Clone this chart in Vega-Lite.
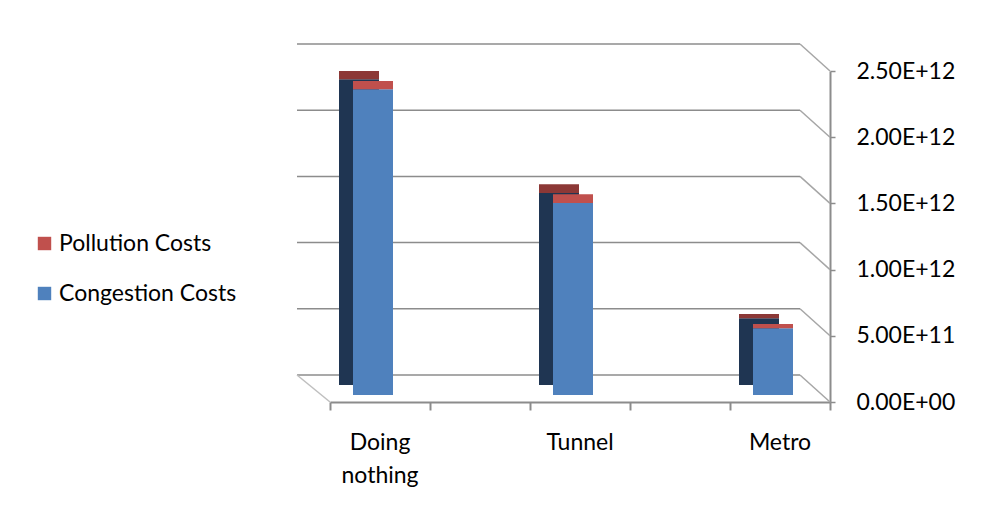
{
  "$schema": "https://vega.github.io/schema/vega-lite/v6.json",
  "autosize": "none",
  "width": 500,
  "height": 331,
  "padding": {"left": 330, "top": 71, "right": 153, "bottom": 118},
  "background": "white",
  "config": {
    "view": {"stroke": null},
    "font": "Lato",
    "axis": {"labelFont": "Lato", "labelColor": "#000000", "labelFontSize": 23, "titleFont": "Lato"},
    "legend": {"labelFont": "Lato", "labelFontSize": 23, "labelColor": "#000000"}
  },
  "datasets": {
    "costs": [
      {"Scenario": "Doing nothing", "Cost": "Congestion Costs", "Value": 2310000000000},
      {"Scenario": "Doing nothing", "Cost": "Pollution Costs", "Value": 62000000000},
      {"Scenario": "Tunnel", "Cost": "Congestion Costs", "Value": 1450000000000},
      {"Scenario": "Tunnel", "Cost": "Pollution Costs", "Value": 66000000000},
      {"Scenario": "Metro", "Cost": "Congestion Costs", "Value": 505000000000},
      {"Scenario": "Metro", "Cost": "Pollution Costs", "Value": 32000000000}
    ],
    "grid": [
      {"v": 0}, {"v": 500000000000}, {"v": 1000000000000},
      {"v": 1500000000000}, {"v": 2000000000000}, {"v": 2500000000000}
    ]
  },
  "layer": [
    {
      "data": {"name": "grid"},
      "mark": {"type": "rule", "color": "#8c8c8c", "strokeWidth": 1.5, "xOffset": -33, "x2Offset": -30, "yOffset": -27, "y2Offset": -27},
      "encoding": {
        "x": {"value": 0},
        "x2": {"value": {"expr": "width"}},
        "y": {"field": "v", "type": "quantitative", "scale": {"domain": [0, 2500000000000], "nice": false},
              "axis": {"orient": "right", "values": [0, 500000000000, 1000000000000, 1500000000000, 2000000000000, 2500000000000],
                       "labelExpr": "datum.value == 0 ? '0.00E+00' : upper(format(datum.value, '.2e'))",
                       "grid": false, "domain": true, "domainColor": "#8c8c8c", "domainWidth": 2,
                       "ticks": true, "tickColor": "#8c8c8c", "tickSize": 5, "tickWidth": 1.5,
                       "labelPadding": 21, "title": null}},
        "y2": {"field": "v"}
      }
    },
    {
      "data": {"name": "grid"},
      "mark": {"type": "rule", "color": "#a6a6a6", "strokeWidth": 1.5, "xOffset": -30, "yOffset": -27},
      "encoding": {
        "x": {"value": {"expr": "width"}},
        "x2": {"value": {"expr": "width"}},
        "y": {"field": "v", "type": "quantitative"},
        "y2": {"field": "v"}
      }
    },
    {
      "data": {"values": [{"v": 0}]},
      "mark": {"type": "rule", "color": "#bfbfbf", "strokeWidth": 1.5, "xOffset": -33, "yOffset": -27},
      "encoding": {
        "x": {"value": 0},
        "x2": {"value": 0},
        "y": {"field": "v", "type": "quantitative"},
        "y2": {"field": "v"}
      }
    },
    {
      "data": {"values": [{"t": 0}]},
      "mark": {"type": "rule", "opacity": 0},
      "encoding": {
        "x": {"datum": 0, "type": "quantitative", "scale": {"domain": [0, 5], "nice": false},
              "axis": {"orient": "bottom", "values": [0, 1, 2, 3, 4, 5], "labels": false, "grid": false,
                       "domain": true, "domainColor": "#8c8c8c", "domainWidth": 2,
                       "ticks": true, "tickColor": "#8c8c8c", "tickWidth": 2, "tickSize": 8, "title": null}}
      }
    },
    {
      "data": {"name": "costs"},
      "mark": {"type": "bar", "xOffset": -21, "yOffset": -17},
      "encoding": {
        "x": {"field": "Scenario", "type": "nominal", "sort": ["Doing nothing", "Tunnel", "Metro"],
              "scale": {"paddingInner": 0.8, "paddingOuter": 0.15}, "axis": null},
        "y": {"field": "Value", "type": "quantitative", "stack": "zero"},
        "order": {"field": "Cost", "sort": "ascending"},
        "color": {"condition": {"test": "datum.Cost == 'Pollution Costs'", "value": "#8c3836"}, "value": "#1f3552"}
      }
    },
    {
      "data": {"name": "costs"},
      "mark": {"type": "bar", "xOffset": -7, "yOffset": -7},
      "encoding": {
        "x": {"field": "Scenario", "type": "nominal", "sort": ["Doing nothing", "Tunnel", "Metro"],
              "scale": {"paddingInner": 0.8, "paddingOuter": 0.15},
              "axis": {"orient": "bottom", "title": null, "ticks": false, "domain": false, "labelAngle": 0,
                       "labelPadding": 29, "labelLineHeight": 33, "labelBaseline": "top",
                       "labelExpr": "datum.value == 'Doing nothing' ? ['Doing', 'nothing'] : datum.value"}},
        "y": {"field": "Value", "type": "quantitative", "stack": "zero"},
        "order": {"field": "Cost", "sort": "ascending"},
        "color": {"field": "Cost", "type": "nominal",
                  "scale": {"domain": ["Pollution Costs", "Congestion Costs"], "range": ["#c0504d", "#4f81bd"]},
                  "legend": {"orient": "none", "legendX": -297, "legendY": 161, "title": null,
                             "symbolType": "square", "symbolSize": 180, "symbolStrokeWidth": 0,
                             "rowPadding": 26, "labelOffset": 3, "labelLimit": 400}}
      }
    }
  ],
  "resolve": {"scale": {"x": "independent"}, "axis": {"x": "independent"}}
}
